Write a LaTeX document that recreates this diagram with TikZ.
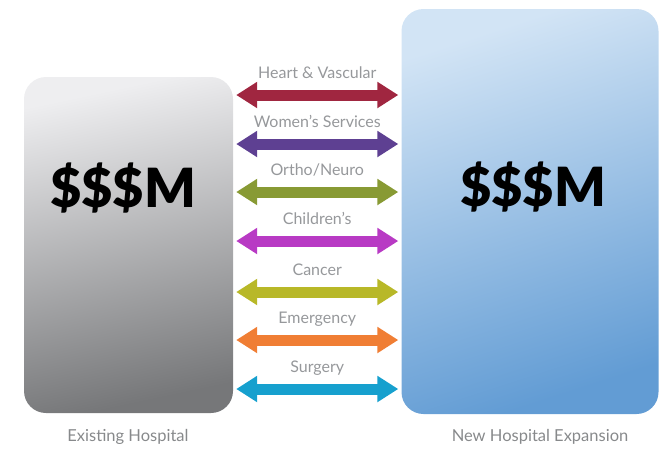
\documentclass[tikz,border=0pt]{standalone}
\usepackage{fontspec}
\setmainfont{Lato}
\newfontfamily\moneyfont{Lato Black}
\usetikzlibrary{arrows.meta,positioning}
\definecolor{heartc}{RGB}{160,38,64}
\definecolor{womenc}{RGB}{94,64,146}
\definecolor{orthoc}{RGB}{136,154,52}
\definecolor{childc}{RGB}{184,58,196}
\definecolor{cancerc}{RGB}{184,184,40}
\definecolor{emergc}{RGB}{240,126,52}
\definecolor{surgc}{RGB}{22,160,206}
\definecolor{labelgray}{RGB}{150,152,155}
\tikzset{
  hospital/.style={rounded corners=22pt, inner sep=0pt},
  oldbox/.style={hospital, top color={rgb,255:red,238;green,238;blue,240},
    bottom color={rgb,255:red,118;green,119;blue,121}, shading angle=12},
  newbox/.style={hospital, top color={rgb,255:red,210;green,228;blue,245},
    bottom color={rgb,255:red,98;green,156;blue,212}, shading angle=18},
  money/.style={font=\fontsize{54}{62}\moneyfont, text=black},
  caption/.style={font=\fontsize{16.5}{19}\selectfont, text=labelgray!90!black},
  service/.style={line width=11pt, draw=#1,
    {Triangle[length=21pt,width=25pt]}-{Triangle[length=21pt,width=25pt]},
    shorten <=3pt, shorten >=3pt},
  servlabel/.style={font=\fontsize{16}{19}\selectfont, text=labelgray,
    anchor=base, yshift=17pt}
}
\begin{document}
\begin{tikzpicture}[x=1pt,y=-1pt]
\useasboundingbox (0,0) rectangle (660,448);
\node[oldbox, minimum width=209pt, minimum height=336pt] (old) at (128.5,245) {};
\node[newbox, minimum width=257pt, minimum height=405pt] (new) at (530,211.5) {};
\node[money] (oldsum) at (123,188) {\$\$\$M};
\node[money] (newsum) at (533,187) {\$\$\$M};
\node[caption] (oldname) at (128,437) {Existing Hospital};
\node[caption] (newname) at (540,437) {New Hospital Expansion};
\foreach \y/\c/\t in {95/heartc/Heart \& Vascular, 144/womenc/Women’s Services,
    192/orthoc/{Ortho/Neuro}, 241/childc/Children’s, 292/cancerc/Cancer,
    340/emergc/Emergency, 389/surgc/Surgery}{
  \coordinate (row) at (0,\y);
  \draw[service=\c] (old.east |- row) -- (new.west |- row)
    node[midway, servlabel] {\t};
}
\end{tikzpicture}
\end{document}
